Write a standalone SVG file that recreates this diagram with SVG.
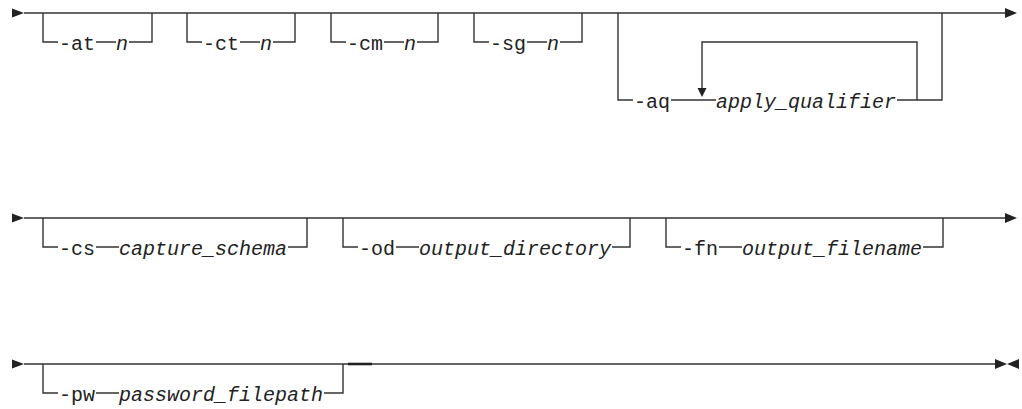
<svg xmlns="http://www.w3.org/2000/svg" width="1022" height="409" viewBox="0 0 1022 409">
<style>
.ln{fill:none;stroke:#333;stroke-width:1.4}
.ah{fill:#222;stroke:none}
text{font-family:"Liberation Mono","DejaVu Sans Mono",monospace;font-size:20px;fill:#222}
.v{font-style:italic}
</style>
<rect width="1022" height="409" fill="#fff"/>
<g id="connectors">
<path class="ln" d="M24,13 H1005"/>
<path class="ln" d="M24,218 H1005"/>
<path class="ln" d="M24,364 H995"/>
<path class="ln" d="M348,364 H372" style="stroke-width:2.6;stroke:#222"/>
<polygon class="ah" points="12,8.5 12,17.5 24,13"/>
<polygon class="ah" points="1005,8 1005,18 1017,13"/>
<polygon class="ah" points="12,213.5 12,222.5 24,218"/>
<polygon class="ah" points="1005,213 1005,223 1017,218"/>
<polygon class="ah" points="12,359.5 12,368.5 24,364"/>
<polygon class="ah" points="995,359 995,369 1007,364"/>
<polygon class="ah" points="1019,359 1019,369 1007,364"/>
</g>
<g id="opt-at">
<path class="ln" d="M43,13 V42 H58 M96,42 H116 M129,42 H152 V13"/>
<text x="59" y="50">-at</text><text class="v" x="116" y="50">n</text>
</g>
<g id="opt-ct">
<path class="ln" d="M187,13 V42 H202 M240,42 H260 M273,42 H295 V13"/>
<text x="203" y="50">-ct</text><text class="v" x="260" y="50">n</text>
</g>
<g id="opt-cm">
<path class="ln" d="M331,13 V42 H346 M384,42 H404 M417,42 H438 V13"/>
<text x="347" y="50">-cm</text><text class="v" x="404" y="50">n</text>
</g>
<g id="opt-sg">
<path class="ln" d="M474,13 V42 H489 M527,42 H547 M560,42 H582 V13"/>
<text x="490" y="50">-sg</text><text class="v" x="547" y="50">n</text>
</g>
<g id="opt-aq">
<path class="ln" d="M618,13 V100 H633 M671,100 H716 M897,100 H942 V13"/>
<path class="ln" d="M917,100 V42 H702 V89"/>
<polygon class="ah" points="697.5,88 706.5,88 702,97"/>
<text x="634" y="108">-aq</text><text class="v" x="716" y="108">apply_qualifier</text>
</g>
<g id="opt-cs">
<path class="ln" d="M43,218 V247 H58 M96,247 H119 M288,247 H307 V218"/>
<text x="59" y="255">-cs</text><text class="v" x="119" y="255">capture_schema</text>
</g>
<g id="opt-od">
<path class="ln" d="M343,218 V247 H358 M396,247 H419 M612,247 H630 V218"/>
<text x="359" y="255">-od</text><text class="v" x="419" y="255">output_directory</text>
</g>
<g id="opt-fn">
<path class="ln" d="M666,218 V247 H681 M719,247 H742 M923,247 H943 V218"/>
<text x="682" y="255">-fn</text><text class="v" x="742" y="255">output_filename</text>
</g>
<g id="opt-pw">
<path class="ln" d="M43,364 V393 H58 M96,393 H119 M324,393 H343 V364"/>
<text x="59" y="401">-pw</text><text class="v" x="119" y="401">password_filepath</text>
</g>
</svg>
